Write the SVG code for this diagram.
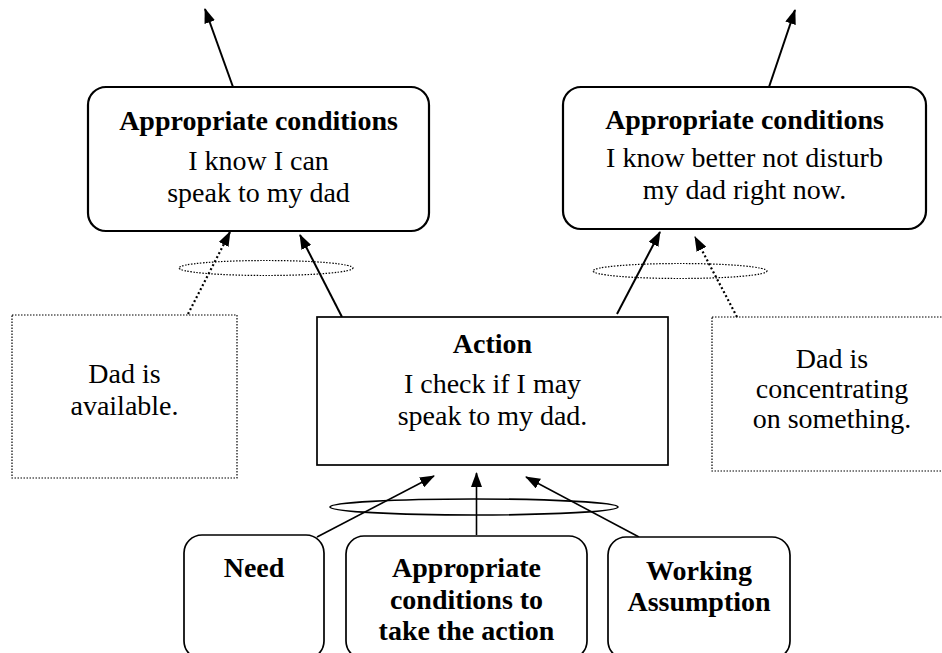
<svg xmlns="http://www.w3.org/2000/svg" width="942" height="653" viewBox="0 0 942 653">
  <style>
    text { font-family: "Liberation Serif", "Times New Roman", serif; font-size: 28px; fill: #000; text-anchor: middle; }
    .b { font-weight: bold; }
    .box { fill: #fff; stroke: #000; stroke-width: 2.2; }
    .thin { fill: #fff; stroke: #000; stroke-width: 1.7; }
    .dot { fill: none; stroke: #000; stroke-width: 1.2; stroke-dasharray: 1.5 1.5; }
    .link { fill: none; stroke: #000; stroke-width: 2; }
    .dlink { fill: none; stroke: #000; stroke-width: 2.2; stroke-dasharray: 2 2.5; }
    .blink { fill: none; stroke: #000; stroke-width: 1.6; }
  </style>
  <defs>
    <!-- filled triangular arrowhead shared by every connector -->
    <marker id="ah" viewBox="0 0 15 11" refX="14" refY="5.5" markerWidth="15" markerHeight="11" markerUnits="userSpaceOnUse" orient="auto">
      <path d="M0,0 L15,5.5 L0,11 Z" fill="#000"/>
    </marker>
  </defs>

  <!-- connectors -->
  <g id="connectors">
    <line class="link" x1="233" y1="87" x2="205" y2="9" marker-end="url(#ah)"/>
    <line class="link" x1="769" y1="87" x2="795" y2="10" marker-end="url(#ah)"/>

    <ellipse class="dot" cx="266" cy="268" rx="87" ry="7.5"/>
    <ellipse class="dot" cx="680" cy="271" rx="87" ry="7.5"/>

    <line class="dlink" x1="188" y1="314" x2="230" y2="232" marker-end="url(#ah)"/>
    <line class="link" x1="342" y1="317" x2="300" y2="235" marker-end="url(#ah)"/>
    <line class="link" x1="617" y1="314" x2="660" y2="232" marker-end="url(#ah)"/>
    <line class="dlink" x1="737" y1="317" x2="695" y2="237" marker-end="url(#ah)"/>

    <ellipse cx="474" cy="507" rx="144" ry="8" fill="none" stroke="#000" stroke-width="1.7"/>
    <line class="blink" x1="317" y1="537" x2="434" y2="476" marker-end="url(#ah)"/>
    <line class="blink" x1="476.5" y1="535" x2="476.5" y2="473" marker-end="url(#ah)"/>
    <line class="blink" x1="639" y1="537" x2="526" y2="477" marker-end="url(#ah)"/>
  </g>

  <g id="cond-left">
    <rect class="box" x="88" y="87" width="341" height="144" rx="18"/>
    <text class="b" x="258.5" y="130">Appropriate conditions</text>
    <text x="258.5" y="170">I know I can</text>
    <text x="258.5" y="202">speak to my dad</text>
  </g>

  <g id="cond-right">
    <rect class="box" x="563" y="87" width="363" height="142" rx="18"/>
    <text class="b" x="744.5" y="129">Appropriate conditions</text>
    <text x="744.5" y="167">I know better not disturb</text>
    <text x="744.5" y="199">my dad right now.</text>
  </g>

  <g id="available">
    <rect class="dot" x="12" y="315" width="225" height="163"/>
    <text x="124.5" y="383">Dad is</text>
    <text x="124.5" y="415">available.</text>
  </g>

  <g id="action">
    <rect class="thin" x="317" y="317" width="351" height="148"/>
    <text class="b" x="492.5" y="353">Action</text>
    <text x="492.5" y="393">I check if I may</text>
    <text x="492.5" y="425">speak to my dad.</text>
  </g>

  <g id="concentrating">
    <rect class="dot" x="712" y="317" width="240" height="154"/>
    <text x="832" y="368">Dad is</text>
    <text x="832" y="398">concentrating</text>
    <text x="832" y="428">on something.</text>
  </g>

  <g id="need">
    <rect class="thin" x="184" y="535" width="140" height="124" rx="18"/>
    <text class="b" x="254" y="577">Need</text>
  </g>

  <g id="conditions-to-act">
    <rect class="thin" x="346" y="536" width="241" height="123" rx="18"/>
    <text class="b" x="466.5" y="577">Appropriate</text>
    <text class="b" x="466.5" y="609">conditions to</text>
    <text class="b" x="466.5" y="640">take the action</text>
  </g>

  <g id="assumption">
    <rect class="thin" x="608" y="537" width="182" height="122" rx="18"/>
    <text class="b" x="699" y="580">Working</text>
    <text class="b" x="699" y="611">Assumption</text>
  </g>
</svg>
